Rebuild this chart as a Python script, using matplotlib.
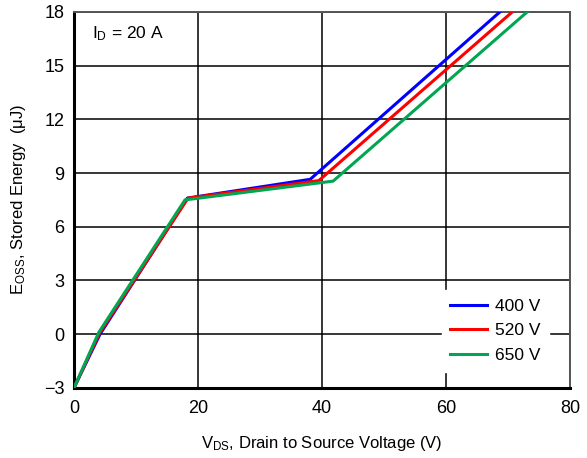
import matplotlib
matplotlib.use("Agg")
import matplotlib.pyplot as plt

plt.rcParams['font.family'] = ['Liberation Sans', 'DejaVu Sans']
plt.rcParams['mathtext.fontset'] = 'custom'
plt.rcParams['mathtext.rm'] = 'Liberation Sans'
plt.rcParams['mathtext.it'] = 'Liberation Sans'

# Eoss curves
vds_400 = [0, 4.2, 18.3, 38.1, 68.7]
eoss_400 = [-3, 0.0, 7.6, 8.65, 18]
vds_520 = [0, 4.1, 18.4, 39.5, 70.7]
eoss_520 = [-3, 0.05, 7.6, 8.58, 18]
vds_650 = [0, 4.0, 17.9, 41.8, 73.1]
eoss_650 = [-3, 0.1, 7.5, 8.55, 18]

labels = ['400 V', '520 V', '650 V']
colors = ['#0000ff', '#ff0000', '#00a651']

xticks = [0, 20, 40, 60, 80]
yticks = [-3, 0, 3, 6, 9, 12, 15, 18]

fig = plt.figure(figsize=(5.87, 4.58), dpi=100)
ax = fig.add_axes([0.126, 0.153, 0.845, 0.821])

ax.plot(vds_400, eoss_400, color=colors[0], lw=2.2, label=labels[0], zorder=3)
ax.plot(vds_520, eoss_520, color=colors[1], lw=2.2, label=labels[1], zorder=3)
ax.plot(vds_650, eoss_650, color=colors[2], lw=2.2, label=labels[2], zorder=3)

ax.set_xlim(0, 80)
ax.set_ylim(-3, 18)
ax.set_xticks(xticks)
ax.set_yticks(yticks)
ax.set_yticklabels(['\u22123' if t < 0 else str(t) for t in yticks])
ax.tick_params(axis='x', length=0, labelsize=13, pad=9)
ax.tick_params(axis='y', length=0, labelsize=13, pad=7)
ax.grid(color='black', lw=1.1)
ax.set_axisbelow(True)

for s in ['left', 'bottom']:
    ax.spines[s].set_linewidth(2.2)
for s in ['top', 'right']:
    ax.spines[s].set_linewidth(1.4)
    ax.spines[s].set_color('#555555')

ax.set_xlabel(r'V$_{\mathrm{DS}}$, Drain to Source Voltage (V)', fontsize=12, labelpad=12)
ax.set_ylabel(r'E$_{\mathrm{OSS}}$, Stored Energy  ($\mathrm{\mu}$J)', fontsize=12, labelpad=11)

ax.text(2.9, 16.8, r'I$_{\mathrm{D}}$ = 20 A', fontsize=12.5, va='center')

leg = ax.legend(loc='lower right', bbox_to_anchor=(0.975, 0.02), frameon=True,
                fancybox=False, edgecolor='white', facecolor='white', framealpha=1,
                fontsize=12.5, handlelength=2.1, handletextpad=0.45, labelspacing=0.55,
                borderpad=0.5)
for line in leg.get_lines():
    line.set_linewidth(2.2)

fig.savefig("out.png", dpi=100)
